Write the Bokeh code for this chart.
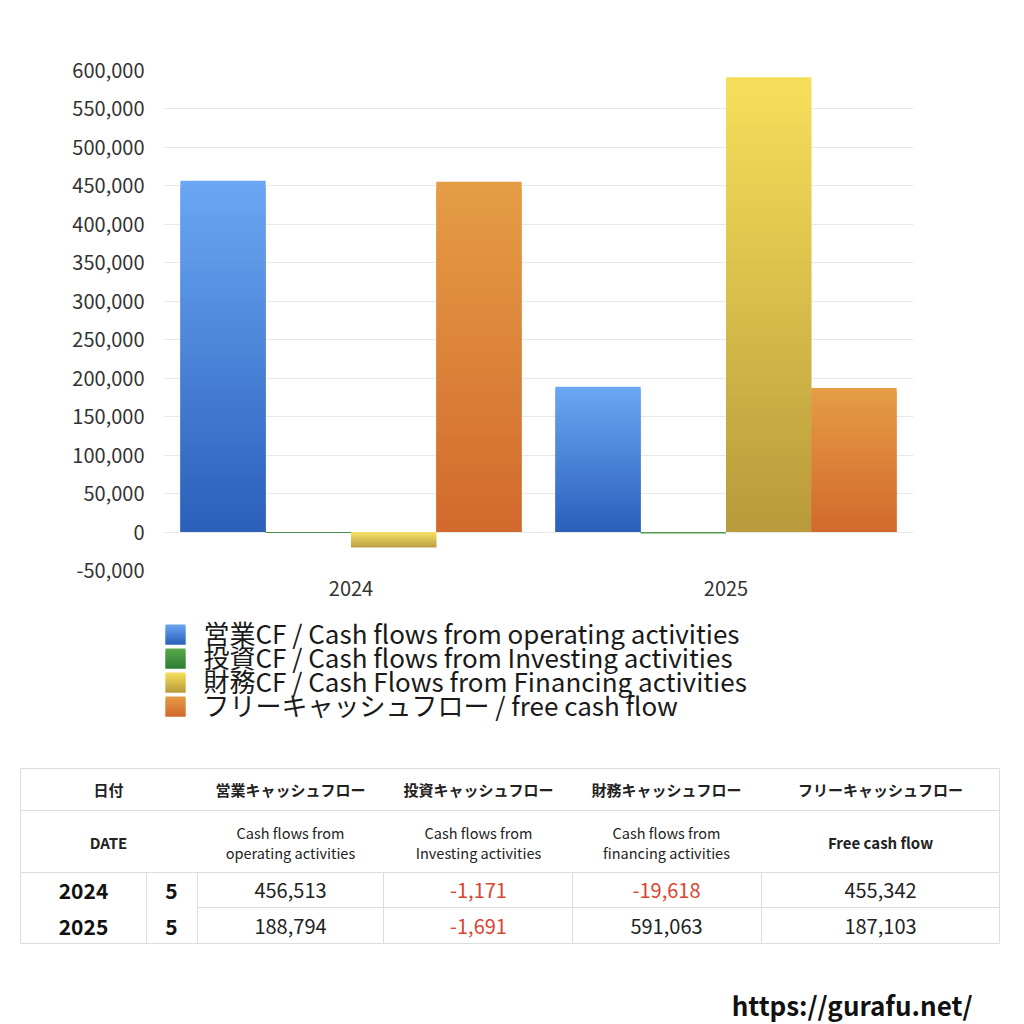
import numpy as np
from bokeh.plotting import figure
from bokeh.models import (ColumnDataSource, FactorRange, Range1d,
                          NumeralTickFormatter, SingleIntervalTicker)
from bokeh.transform import dodge
from bokeh.core.properties import value
from bokeh.embed import file_html
from bokeh.resources import INLINE

# ---------------- data ----------------
years = ["2024", "2025"]
months = [5, 5]
operating = [456513, 188794]
investing = [-1171, -1691]
financing = [-19618, 591063]
free_cf = [455342, 187103]

series_names = [
    "営業CF / Cash flows from operating activities",
    "投資CF / Cash flows from Investing activities",
    "財務CF / Cash Flows from Financing activities",
    "フリーキャッシュフロー / free cash flow",
]
header_jp = ["日付", "営業キャッシュフロー", "投資キャッシュフロー",
             "財務キャッシュフロー", "フリーキャッシュフロー"]
header_en_1 = ["DATE", "Cash flows from", "Cash flows from", "Cash flows from", "Free cash flow"]
header_en_2 = ["", "operating activities", "Investing activities", "financing activities", ""]
site_url = "https://gurafu.net/"

# ---------------- styles ----------------
FONT = "Noto Sans CJK JP"
W = 1024
grad_top = ["#6ba7f3", "#59ab4c", "#f6e05a", "#e59d45"]
grad_bot = ["#2b5fbb", "#2e7c33", "#b89a3b", "#d2692d"]
series_vals = [operating, investing, financing, free_cf]


def h2rgb(h):
    h = h.lstrip("#")
    return np.array([int(h[i:i + 2], 16) for i in (0, 2, 4)], dtype=float)


def mix(c1, c2, t):
    c = h2rgb(c1) * (1 - t) + h2rgb(c2) * t
    return "#%02x%02x%02x" % tuple(int(round(v)) for v in c)


N = 60
H1 = 600

# ---------------- chart ----------------
p1 = figure(width=W, height=H1, x_range=FactorRange(*years),
            y_range=Range1d(-50000, 600000), output_backend="svg",
            toolbar_location=None, min_border_left=163, min_border_right=111,
            min_border_top=70, min_border_bottom=30)
p1.outline_line_color = None
p1.background_fill_color = "white"
p1.border_fill_color = "white"

bar_w = 0.2275
offsets = [-1.5 * bar_w, -0.5 * bar_w, 0.5 * bar_w, 1.5 * bar_w]

for s, vals in enumerate(series_vals):
    xs, tops, bots, cols = [], [], [], []
    for yr, v in zip(years, vals):
        hi, lo = max(0, v), min(0, v)
        for k in range(N):
            # each slice overlaps the next one so that no seams show
            kb = min(k + 2, N)
            xs.append(yr)
            tops.append(hi - (hi - lo) * k / N)
            bots.append(hi - (hi - lo) * kb / N)
            cols.append(mix(grad_top[s], grad_bot[s], (k + 0.5) / N))
    src = ColumnDataSource(dict(x=xs, top=tops, bottom=bots, color=cols))
    p1.vbar(x=dodge("x", offsets[s], range=p1.x_range), width=bar_w,
            top="top", bottom="bottom", source=src,
            fill_color="color", line_color=None)

p1.yaxis.ticker = SingleIntervalTicker(interval=50000, num_minor_ticks=0)
p1.yaxis.formatter = NumeralTickFormatter(format="0,0")
for ax in (p1.xaxis, p1.yaxis):
    ax.axis_line_color = None
    ax.major_tick_line_color = None
    ax.minor_tick_line_color = None
    ax.major_label_text_font = FONT
    ax.major_label_text_font_size = "20px"
    ax.major_label_text_color = "#333333"
p1.yaxis.major_label_standoff = 13
p1.xaxis.major_label_standoff = 4
p1.xgrid.grid_line_color = None
p1.ygrid.grid_line_color = "#e8e8e8"
p1.ygrid.grid_line_width = 1

# ---------------- legend + table ----------------
H2 = 1024 - H1
OY = H1
p2 = figure(width=W, height=H2, x_range=Range1d(0, W), y_range=Range1d(H2, 0),
            output_backend="svg", toolbar_location=None,
            min_border=0, min_border_left=0, min_border_right=0,
            min_border_top=0, min_border_bottom=0)
p2.axis.visible = False
p2.grid.visible = False
p2.outline_line_color = None
p2.background_fill_color = "white"
p2.border_fill_color = "white"

# legend
leg_y0 = 634
leg_dy = 24
for i, name in enumerate(series_names):
    cy = leg_y0 + i * leg_dy - OY
    n = 10
    lefts, rights, tps, bts, cs = [], [], [], [], []
    for k in range(n):
        kb = min(k + 2, n)
        lefts.append(165)
        rights.append(185)
        tps.append(cy - 10 + 20 * k / n)
        bts.append(cy - 10 + 20 * kb / n)
        cs.append(mix(grad_top[i], grad_bot[i], (k + 0.5) / n))
    p2.quad(left=lefts, right=rights, top=tps, bottom=bts,
            fill_color=cs, line_color=None)
    p2.text(x=[203], y=[cy - 2], text=[name], text_font=value(FONT),
            text_font_size="26px", text_color="#1a1a1a",
            text_baseline="middle", text_align="left")

# table grid
grid_c = "#dddddd"
tx0, tx1 = 20, 999
ty = [768 - OY, 810 - OY, 872 - OY, 907 - OY, 943 - OY]
p2.segment(x0=[tx0, tx0, tx0, tx0, 197], x1=[tx1, tx1, tx1, tx1, tx1],
           y0=[ty[0], ty[1], ty[2], ty[4], ty[3]], y1=[ty[0], ty[1], ty[2], ty[4], ty[3]],
           line_color=grid_c, line_width=1)
vx = [20, 146, 197, 383, 572, 761, 999]
p2.segment(x0=vx, x1=vx, y0=[ty[2]] * len(vx), y1=[ty[4]] * len(vx),
           line_color=grid_c, line_width=1)
p2.segment(x0=[tx0, tx1], x1=[tx0, tx1], y0=[ty[0]] * 2, y1=[ty[2]] * 2,
           line_color=grid_c, line_width=1)

col_cx = [108, 290, 478, 666, 880]
p2.text(x=col_cx, y=[789 - OY] * 5, text=header_jp, text_font=value(FONT),
        text_font_size="15px", text_font_style="bold", text_color="#222222",
        text_align="center", text_baseline="middle")
one_line = [i for i in range(5) if header_en_2[i] == ""]
two_line = [i for i in range(5) if header_en_2[i] != ""]
p2.text(x=[col_cx[i] for i in one_line], y=[842 - OY] * len(one_line),
        text=[header_en_1[i] for i in one_line], text_font=value(FONT),
        text_font_size="15px", text_font_style="bold", text_color="#222222",
        text_align="center", text_baseline="middle")
p2.text(x=[col_cx[i] for i in two_line], y=[832 - OY] * len(two_line),
        text=[header_en_1[i] for i in two_line], text_font=value(FONT),
        text_font_size="14.5px", text_color="#222222",
        text_align="center", text_baseline="middle")
p2.text(x=[col_cx[i] for i in two_line], y=[852 - OY] * len(two_line),
        text=[header_en_2[i] for i in two_line], text_font=value(FONT),
        text_font_size="14.5px", text_color="#222222",
        text_align="center", text_baseline="middle")

row_y = [890 - OY, 926 - OY]
p2.text(x=[83] * 2, y=row_y, text=years, text_font=value(FONT),
        text_font_size="21px", text_font_style="bold", text_color="#111111",
        text_align="center", text_baseline="middle")
p2.text(x=[171] * 2, y=row_y, text=[str(m) for m in months], text_font=value(FONT),
        text_font_size="21px", text_font_style="bold", text_color="#111111",
        text_align="center", text_baseline="middle")
vx_l, vy_l, vt_l, vc_l = [], [], [], []
for s, vals in enumerate(series_vals):
    for r, v in enumerate(vals):
        vx_l.append(col_cx[s + 1])
        vy_l.append(row_y[r])
        vt_l.append(f"{v:,}")
        vc_l.append("#d9452f" if v < 0 else "#222222")
p2.text(x=vx_l, y=vy_l, text=vt_l, text_color=vc_l, text_font=value(FONT),
        text_font_size="20px", text_align="center", text_baseline="middle")

p2.text(x=[972], y=[1004 - OY], text=[site_url], text_font=value(FONT),
        text_font_size="26px", text_font_style="bold", text_color="#111111",
        text_align="right", text_baseline="middle")

open("out.html", "w").write(file_html([p1, p2], INLINE, title="chart"))
